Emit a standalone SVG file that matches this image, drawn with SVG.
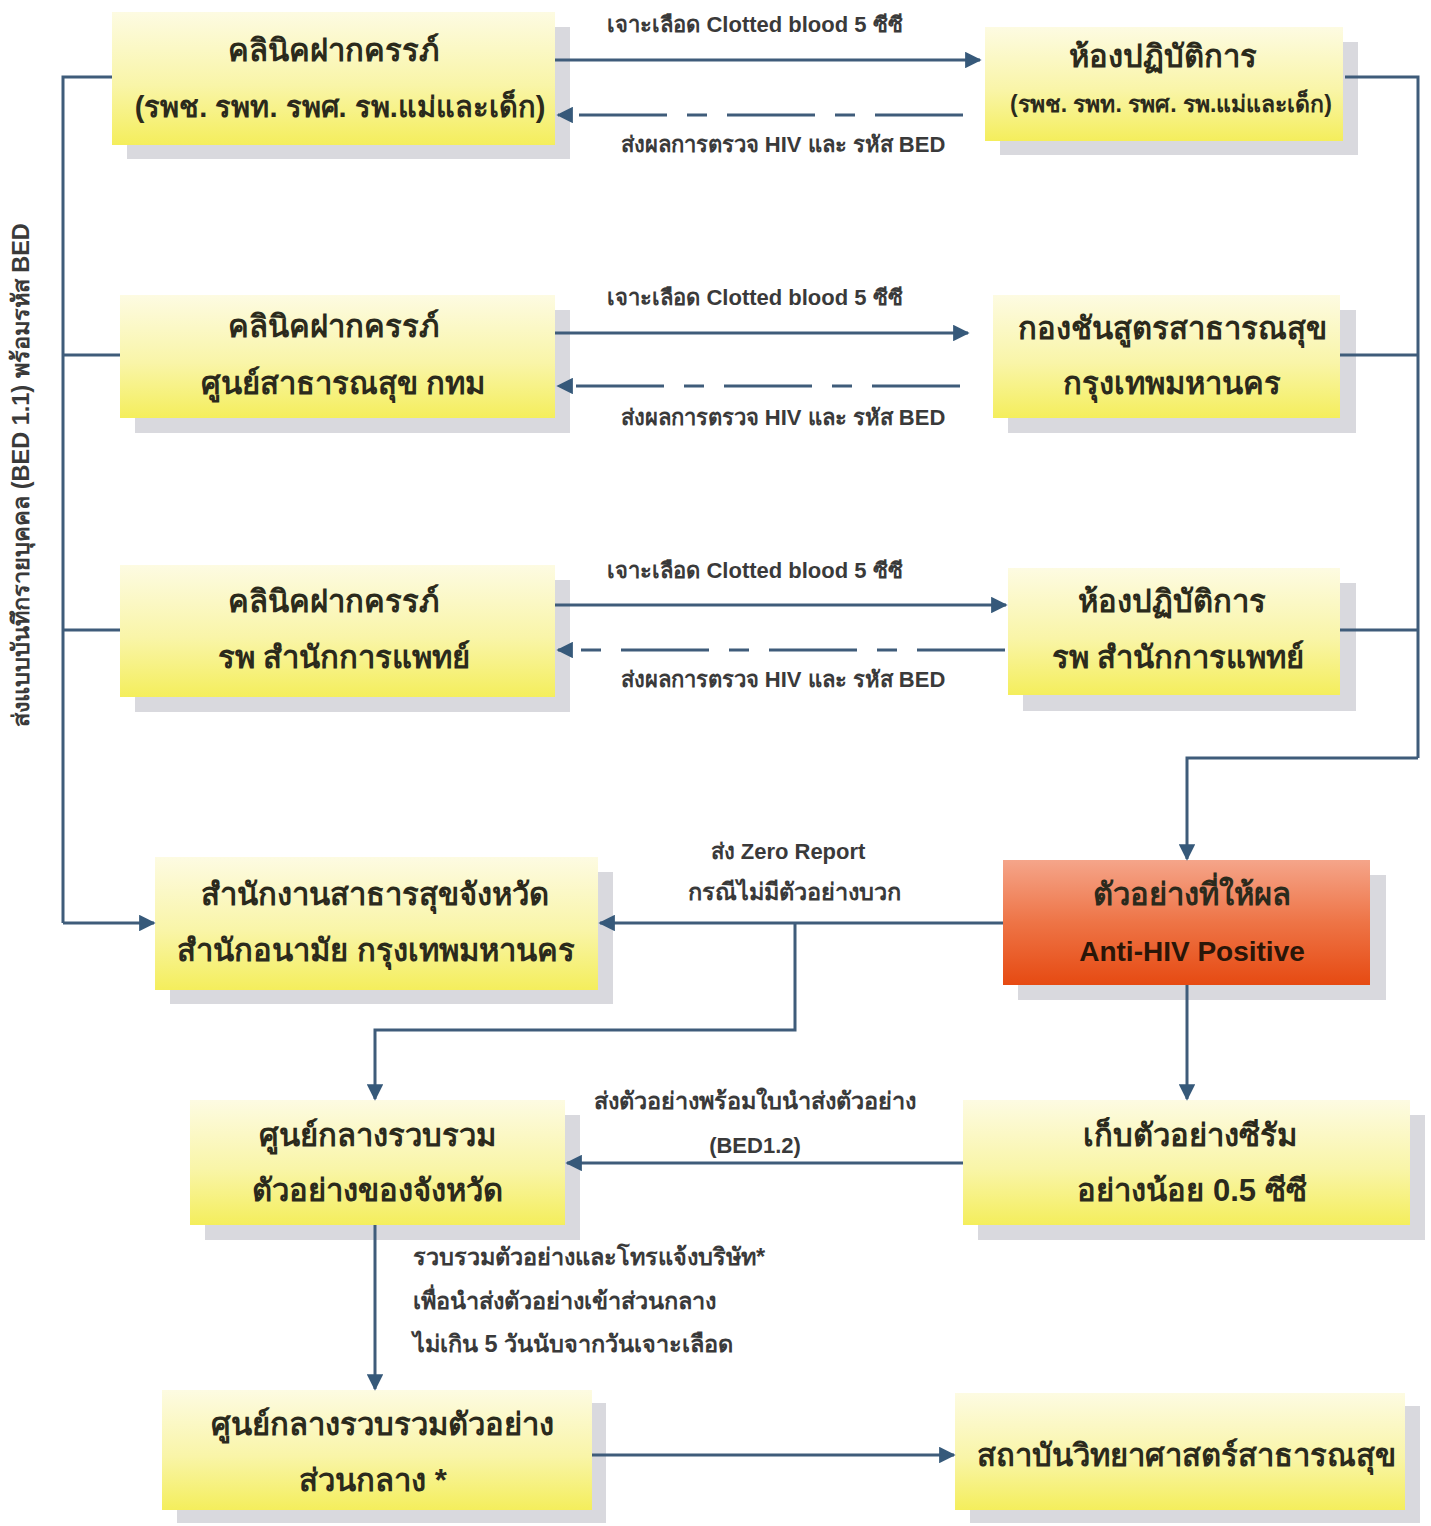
<svg xmlns="http://www.w3.org/2000/svg" width="1431" height="1526" viewBox="0 0 1431 1526">
<defs>
<linearGradient id="gY" x1="0" y1="0" x2="0" y2="1">
<stop offset="0" stop-color="#fdfbe2"/>
<stop offset="0.55" stop-color="#f9f5a8"/>
<stop offset="1" stop-color="#f4ee5c"/>
</linearGradient>
<linearGradient id="gR" x1="0" y1="0" x2="0" y2="1">
<stop offset="0" stop-color="#f5a58a"/>
<stop offset="0.5" stop-color="#ee7446"/>
<stop offset="1" stop-color="#e64a12"/>
</linearGradient>
<marker id="ah" viewBox="0 0 10 10" refX="9" refY="5" markerWidth="9" markerHeight="5.5" markerUnits="strokeWidth" orient="auto">
<path d="M0,0 L10,5 L0,10 z" fill="#36597a"/>
</marker>
<style>
.sh{fill:#d9d9de}
.by{fill:url(#gY)}
.br{fill:url(#gR)}
.t{font-family:"Liberation Sans","Noto Sans","DejaVu Sans",sans-serif;font-weight:bold;fill:#2b2a1c;text-anchor:middle;font-size:31px}
.l{font-family:"Liberation Sans","Noto Sans","DejaVu Sans",sans-serif;font-weight:bold;fill:#3a3a3a;font-size:22px}
.th{font-size:23.5px}
.m{text-anchor:middle}
.c{fill:none;stroke:#3f5c7a;stroke-width:3}
.a{marker-end:url(#ah)}
.d{stroke-dasharray:88 20 20 20}
</style>
</defs>
<rect width="1431" height="1526" fill="#ffffff"/>

<g id="n1">
<rect class="sh" x="127" y="27" width="443" height="132"/>
<rect class="by" x="112" y="12" width="443" height="133"/>
<text class="t" x="333" y="61">คลินิคฝากครรภ์</text>
<text class="t" x="340" y="117" style="font-size:29px">(รพช. รพท. รพศ. รพ.แม่และเด็ก)</text>
</g>
<g id="n2">
<rect class="sh" x="1000" y="42" width="358" height="113"/>
<rect class="by" x="985" y="27" width="358" height="114"/>
<text class="t" x="1163" y="67">ห้องปฏิบัติการ</text>
<text class="t" x="1171" y="112" style="font-size:23px">(รพช. รพท. รพศ. รพ.แม่และเด็ก)</text>
</g>
<g id="n3">
<rect class="sh" x="135" y="310" width="435" height="123"/>
<rect class="by" x="120" y="295" width="435" height="123"/>
<text class="t" x="333" y="337">คลินิคฝากครรภ์</text>
<text class="t" x="343" y="394">ศูนย์สาธารณสุข กทม</text>
</g>
<g id="n4">
<rect class="sh" x="1008" y="310" width="348" height="123"/>
<rect class="by" x="993" y="295" width="347" height="123"/>
<text class="t" x="1172" y="339">กองชันสูตรสาธารณสุข</text>
<text class="t" x="1172" y="394">กรุงเทพมหานคร</text>
</g>
<g id="n5">
<rect class="sh" x="135" y="580" width="435" height="132"/>
<rect class="by" x="120" y="565" width="435" height="132"/>
<text class="t" x="333" y="612">คลินิคฝากครรภ์</text>
<text class="t" x="344" y="668">รพ สำนักการแพทย์</text>
</g>
<g id="n6">
<rect class="sh" x="1023" y="583" width="333" height="128"/>
<rect class="by" x="1008" y="568" width="332" height="127"/>
<text class="t" x="1172" y="612">ห้องปฏิบัติการ</text>
<text class="t" x="1178" y="668">รพ สำนักการแพทย์</text>
</g>
<g id="n7">
<rect class="sh" x="170" y="872" width="443" height="132"/>
<rect class="by" x="155" y="857" width="443" height="133"/>
<text class="t" x="375" y="905">สำนักงานสาธารสุขจังหวัด</text>
<text class="t" x="376" y="961">สำนักอนามัย กรุงเทพมหานคร</text>
</g>
<g id="n8">
<rect class="sh" x="1018" y="875" width="368" height="125"/>
<rect class="br" x="1003" y="860" width="367" height="125"/>
<text class="t" x="1192" y="905">ตัวอย่างที่ให้ผล</text>
<text class="t" x="1192" y="961" style="font-size:28px;fill:#2a1608">Anti-HIV Positive</text>
</g>
<g id="n9">
<rect class="sh" x="205" y="1115" width="375" height="125"/>
<rect class="by" x="190" y="1100" width="375" height="125"/>
<text class="t" x="377" y="1146">ศูนย์กลางรวบรวม</text>
<text class="t" x="377" y="1201">ตัวอย่างของจังหวัด</text>
</g>
<g id="n10">
<rect class="sh" x="978" y="1115" width="447" height="125"/>
<rect class="by" x="963" y="1100" width="447" height="125"/>
<text class="t" x="1190" y="1146">เก็บตัวอย่างซีรัม</text>
<text class="t" x="1192" y="1201">อย่างน้อย 0.5 ซีซี</text>
</g>
<g id="n11">
<rect class="sh" x="177" y="1403" width="429" height="120"/>
<rect class="by" x="162" y="1390" width="430" height="120"/>
<text class="t" x="382" y="1435">ศูนย์กลางรวบรวมตัวอย่าง</text>
<text class="t" x="373" y="1491">ส่วนกลาง *</text>
</g>
<g id="n12">
<rect class="sh" x="970" y="1406" width="450" height="117"/>
<rect class="by" x="955" y="1393" width="450" height="117"/>
<text class="t" x="1186" y="1466">สถาบันวิทยาศาสตร์สาธารณสุข</text>
</g>

<g id="connectors">
<path class="c a" d="M555,60 H980"/>
<path class="c a d" d="M963,115 H558"/>
<path class="c a" d="M555,333 H968"/>
<path class="c a d" d="M960,386 H558"/>
<path class="c a" d="M555,605 H1006"/>
<path class="c a d" d="M1005,650 H558"/>
<path class="c" d="M112,77 H63 V923"/>
<path class="c" d="M120,355 H63"/>
<path class="c" d="M120,630 H63"/>
<path class="c a" d="M63,923 H154"/>
<path class="c" d="M1345,77 H1418 V758"/>
<path class="c" d="M1340,355 H1418"/>
<path class="c" d="M1340,630 H1418"/>
<path class="c a" d="M1418,758 H1187 V859"/>
<path class="c a" d="M1003,923 H600"/>
<path class="c a" d="M795,923 V1030 H375 V1099"/>
<path class="c a" d="M1187,985 V1099"/>
<path class="c a" d="M963,1163 H567"/>
<path class="c a" d="M375,1225 V1389"/>
<path class="c a" d="M592,1455 H954"/>
<text class="l m" x="755" y="32">เจาะเลือด Clotted blood 5 ซีซี</text>
<text class="l m" x="783" y="152">ส่งผลการตรวจ HIV และ รหัส BED</text>
<text class="l m" x="755" y="305">เจาะเลือด Clotted blood 5 ซีซี</text>
<text class="l m" x="783" y="425">ส่งผลการตรวจ HIV และ รหัส BED</text>
<text class="l m" x="755" y="578">เจาะเลือด Clotted blood 5 ซีซี</text>
<text class="l m" x="783" y="687">ส่งผลการตรวจ HIV และ รหัส BED</text>
<text class="l m th" x="29" y="475" transform="rotate(-90 29 475)">ส่งแบบบันทึกรายบุคคล (BED 1.1) พร้อมรหัส BED</text>
<text class="l m" x="788" y="859">ส่ง Zero Report</text>
<text class="l m th" x="794" y="900">กรณีไม่มีตัวอย่างบวก</text>
<text class="l m th" x="755" y="1109">ส่งตัวอย่างพร้อมใบนำส่งตัวอย่าง</text>
<text class="l m" x="755" y="1153">(BED1.2)</text>
<text class="l th" x="413" y="1265">รวบรวมตัวอย่างและโทรแจ้งบริษัท*</text>
<text class="l th" x="413" y="1309">เพื่อนำส่งตัวอย่างเข้าส่วนกลาง</text>
<text class="l th" x="413" y="1352">ไม่เกิน 5 วันนับจากวันเจาะเลือด</text>
</g>
</svg>
